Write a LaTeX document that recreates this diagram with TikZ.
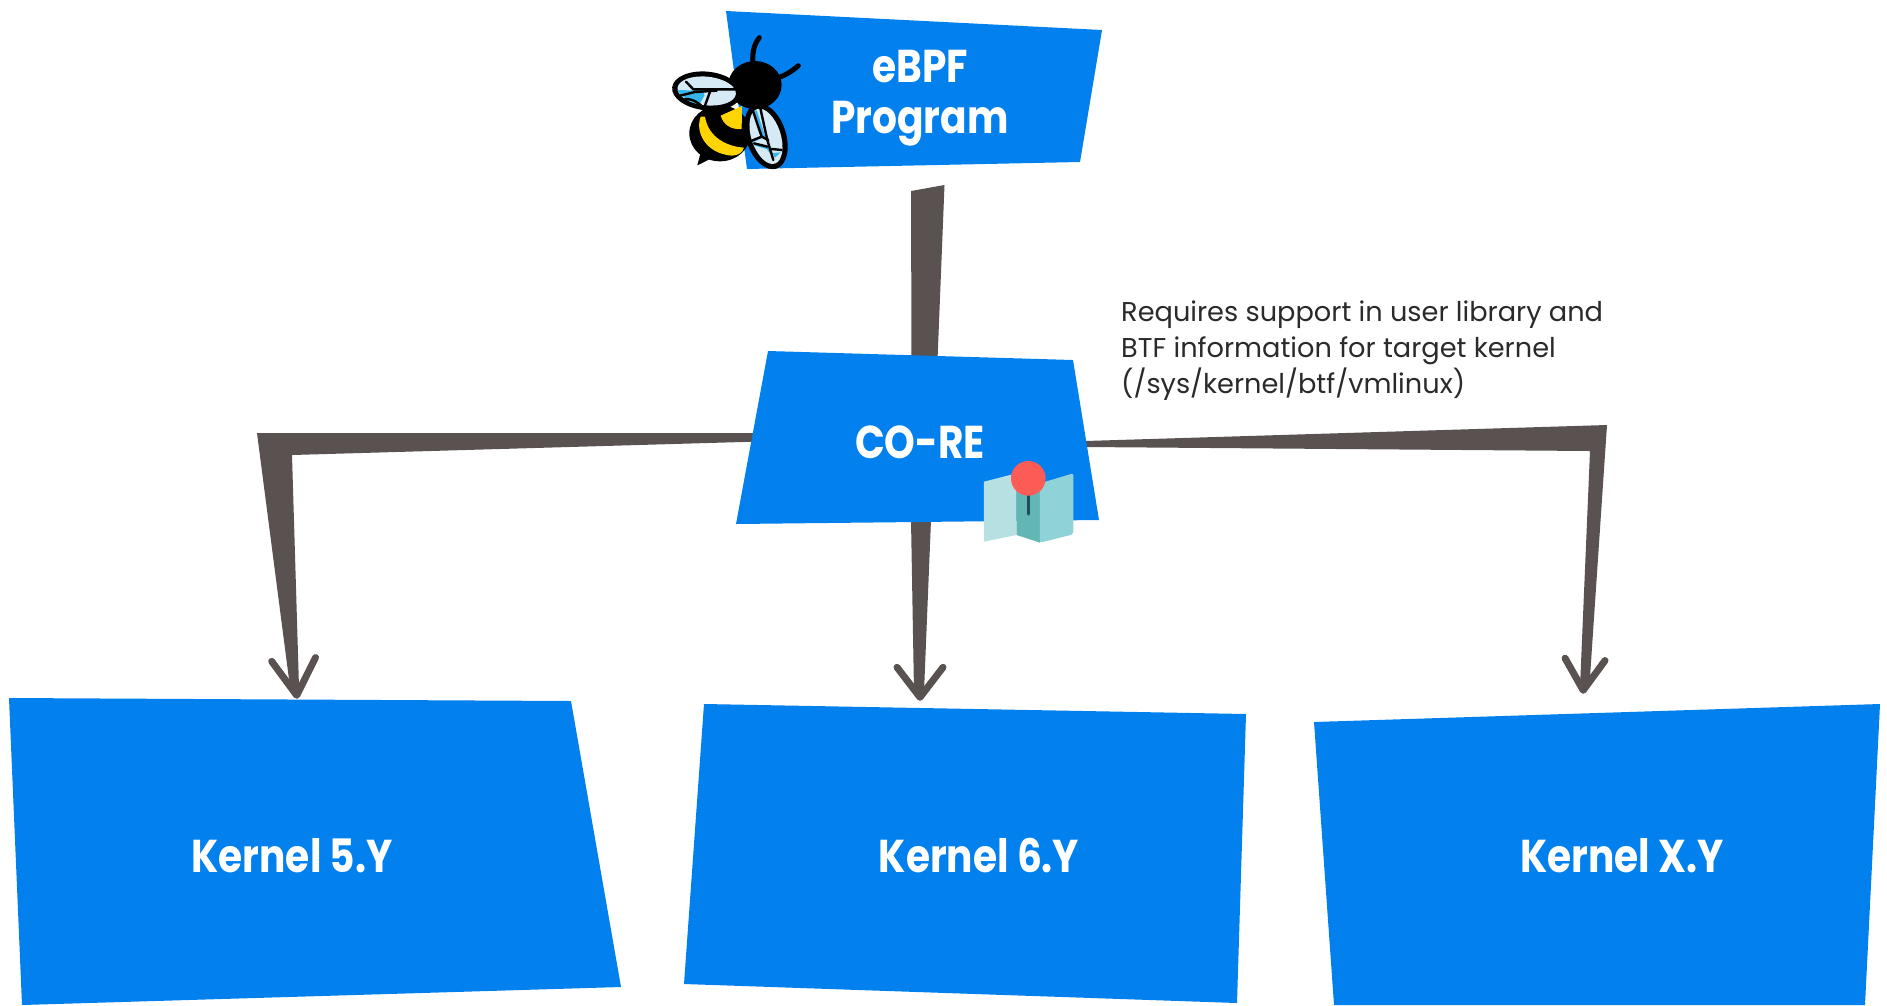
\documentclass[tikz,border=0pt]{standalone}
\usepackage{fontspec}
\usetikzlibrary{arrows.meta,calc,backgrounds}
\newfontfamily\headfont[FakeStretch=0.85]{Poppins}
\newfontfamily\notefont{Poppins}
\definecolor{boxblue}{HTML}{0280EE}
\definecolor{wirecol}{HTML}{595251}
\definecolor{notecol}{HTML}{2A2A2A}
\definecolor{winglight}{HTML}{D6EAF6}
\definecolor{wingcyan}{HTML}{35B4EE}
\definecolor{beeyellow}{HTML}{FFD400}
\definecolor{mapl}{HTML}{B7E0E3}
\definecolor{mapm}{HTML}{62B7B5}
\definecolor{mapr}{HTML}{8FD2D8}
\definecolor{pinred}{HTML}{FD5C56}
\definecolor{pindark}{HTML}{1E4D5C}
\tikzset{
  panel/.style={fill=boxblue,draw=none},
  head/.style={text=white,font=\headfont\bfseries\fontsize{46}{50}\selectfont,align=center,inner sep=0pt},
  region/.style={rectangle,draw=none,fill=none,anchor=center},
  taper/.style={fill=wirecol,draw=none},
  wire/.style={draw=wirecol,line width=5pt,line join=round},
  wiretip/.style 2 args={-{Straight Barb[length=#1pt,width=#2pt,line width=7pt,round]}},
  vein/.style={draw=black,line width=2.4pt,line cap=round,line join=round},
  stalk/.style={draw=black,line width=5pt,line cap=round},
}
\begin{document}
\begin{tikzpicture}[x=1pt,y=-1pt]
\pgfdeclarelayer{back}
\pgfsetlayers{back,main}
\useasboundingbox (0,0) rectangle (1887,1005);
% panels
\fill[panel] (726,11) -- (1102,30) -- (1080,162) -- (747,169) -- cycle;
\fill[panel] (768,351) -- (1073,360) -- (1099,520) -- (736,524) -- cycle;
\fill[panel] (9,698) -- (571,701) -- (621,987) -- (22,1005) -- cycle;
\fill[panel] (704,704) -- (1246,714) -- (1237,1003) -- (684,984) -- cycle;
\fill[panel] (1314,722) -- (1880,704) -- (1865,1005) -- (1334,1005) -- cycle;
% labelled nodes (their regions reach the connector ends)
\node[head,region,minimum width=340pt,minimum height=194pt] (ebpf) at (920,98) {eBPF\\[1pt]Program};
\node[head,region,minimum width=340pt,minimum height=170pt] (core) at (920,442) {CO-RE};
\node[head,region,minimum width=500pt,minimum height=314pt] (k5) at (292,856) {Kernel 5.Y};
\node[head,region,minimum width=500pt,minimum height=310pt] (k6) at (979,856) {Kernel 6.Y};
\node[head,region,minimum width=500pt,minimum height=324pt] (kx) at (1622,856) {Kernel X.Y};
\node[anchor=north west,inner sep=0pt,text=notecol,align=left,font=\notefont\fontsize{27.2}{36}\selectfont] (note) at (1121,301)
  {Requires support in user library and\\BTF information for target kernel\\(/sys/kernel/btf/vmlinux)};
% connectors
\begin{pgfonlayer}{back}
\fill[taper] (911,191) -- (944.5,185) -- (937.5,360) -- (911.5,360) -- cycle;
\draw[wire,line width=20pt] ($(ebpf.south)+(7,0)$) -- ($(core.north)+(5,10)$);
\fill[taper] (760,433) -- (257,433) -- (290,687) -- (297,698) -- (299,687) -- (292,455) -- (760,441.5) -- cycle;
\draw[wire,wiretip={36}{44}] ($(core.west)+(5,-5)$) -- (275,444) -- ($(k5.north)+(5,0)$);
\fill[taper] (911,520) -- (931,520) -- (924,692) -- (914,692) -- cycle;
\draw[wire,wiretip={30}{46}] (core.south) -- (k6.north -| core.south);
\fill[taper] (1085,441) -- (1607,425) -- (1590,677) -- (1583,693) -- (1580,687) -- (1590,451) -- (1085,447) -- cycle;
\draw[wire,wiretip={31}{40}] ($(core.east)+(-6,2)$) -- (1598,438) -- ($(kx.north)+(-39,0)$);
\end{pgfonlayer}
% bee badge
\begin{scope}[shift={(660,25)},x=0.3333pt,y=-0.3333pt]
  \draw[stalk] (280,125) .. controls (275,90) and (280,60) .. (298,38);
  \draw[stalk] (345,160) .. controls (370,155) and (395,140) .. (415,122);
  \fill[black] (285,180) ellipse [x radius=80,y radius=72];
  \fill[black] (112,421) -- (125,370) -- (165,395) -- cycle;
  \fill[black] (180,325) ellipse [x radius=92,y radius=84];
  \fill[beeyellow] (122,275) .. controls (105,320) and (135,385) .. (215,392)
     .. controls (235,392) and (248,382) .. (252,368)
     .. controls (205,365) and (145,340) .. (135,275) -- cycle;
  \fill[beeyellow] (246,243) -- (182,272) .. controls (190,300) and (215,315) .. (245,312) -- cycle;
  % left wing
  \begin{scope}[rotate around={-6:(140,198)}]
    \fill[black] (140,198) ellipse [x radius=104,y radius=58];
    \fill[winglight] (140,198) ellipse [x radius=88,y radius=43];
    \begin{scope}
      \clip (140,198) ellipse [x radius=88,y radius=43];
      \fill[wingcyan] (45,205) -- (130,198) -- (135,212) -- (118,250) -- (85,230) -- cycle;
    \end{scope}
  \end{scope}
  \draw[vein] (78,170) -- (100,193) -- (232,193);
  \draw[vein] (60,212) -- (105,201) -- (170,197);
  \draw[vein] (150,200) -- (132,250);
  \draw[vein] (75,222) .. controls (100,222) and (120,235) .. (130,250);
  % right wing
  \begin{scope}[rotate around={-72:(318,334)}]
    \fill[black] (318,334) ellipse [x radius=102,y radius=60];
    \fill[winglight] (318,334) ellipse [x radius=86,y radius=44];
  \end{scope}
  \fill[wingcyan] (280,262) -- (290,255) -- (316,335) -- (278,352) -- (275,345) -- (305,335) -- cycle;
  \fill[wingcyan] (278,355) -- (328,365) -- (345,398) -- (362,382) -- (330,385) -- (320,372) -- (285,362) -- cycle;
  \draw[vein] (278,255) -- (305,335) -- (268,350);
  \draw[vein] (300,245) -- (322,345) -- (340,405);
  \draw[vein] (305,335) -- (325,345);
  \draw[vein] (282,355) -- (322,365);
  \draw[vein] (335,372) -- (365,375);
\end{scope}
% map pin badge
\begin{scope}[shift={(720,340)},x=0.3333pt,y=-0.3333pt]
  \fill[mapl] (792,425) -- (890,400) -- (890,585) -- (792,605) -- cycle;
  \fill[mapm] (890,400) -- (960,425) -- (960,608) -- (890,585) -- cycle;
  \fill[mapr,rounded corners=2pt] (960,430) -- (1060,400) -- (1060,583) -- (960,608) -- cycle;
  \draw[pindark,line width=3.2pt,line cap=round] (925,465) -- (925,522);
  \fill[pinred] (925,415) circle [radius=52];
\end{scope}
\end{tikzpicture}
\end{document}
